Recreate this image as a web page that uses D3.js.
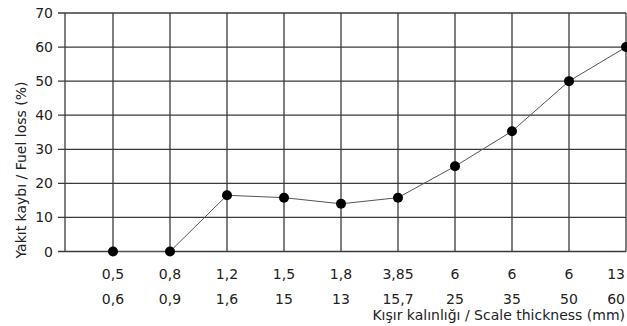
<!DOCTYPE html>
<html><head><meta charset="utf-8">
<script src="https://cdn.jsdelivr.net/npm/d3@7"></script>
<style>body{margin:0;background:#fff}svg text{font-family:"DejaVu Sans",sans-serif;fill:#222}</style>
</head><body><svg id="c" width="627" height="326"></svg>
<script>
const labelsTop = ["0,5","0,8","1,2","1,5","1,8","3,85","6","6","6","13"];
const labelsBottom = ["0,6","0,9","1,6","15","13","15,7","25","35","50","60"];
const values = [0,0,16.5,15.8,14,15.8,25,35.3,50,60];
const yTicks = [0,10,20,30,40,50,60,70];

(function(){
const svg = d3.select("#c");
const mLeft = 65, mRight = 626, mTop = 13, mBottom = 251.5;
const x = d3.scalePoint().domain(d3.range(values.length)).range([113, mRight]);
const y = d3.scaleLinear().domain([0,70]).range([mBottom, mTop]);
const grid = "#3a3a3a";
const fs = 14;
const n = values.length;

svg.append("g").selectAll("line").data(yTicks).join("line")
  .attr("x1", mLeft-7).attr("x2", mRight).attr("y1", d=>y(d)).attr("y2", d=>y(d))
  .attr("stroke", grid).attr("stroke-width", 1.3);
svg.append("g").selectAll("line").data(d3.range(n)).join("line")
  .attr("x1", d=>x(d)).attr("x2", d=>x(d)).attr("y1", mTop).attr("y2", mBottom)
  .attr("stroke", grid).attr("stroke-width", 1.3);
svg.append("line").attr("x1", mLeft).attr("x2", mLeft).attr("y1", mTop).attr("y2", mBottom)
  .attr("stroke", grid).attr("stroke-width", 1.3);

svg.append("g").selectAll("text").data(yTicks).join("text")
  .attr("x", mLeft-12).attr("y", d=>y(d)).attr("dy","0.36em").attr("text-anchor","end")
  .attr("font-size", fs).text(d=>d);

const anchor = i => i === n-1 ? "end" : "middle";
const lx = i => i === n-1 ? x(i)-1 : x(i);
svg.append("g").selectAll("text").data(labelsTop).join("text")
  .attr("x", (d,i)=>lx(i)).attr("y", 279).attr("text-anchor",(d,i)=>anchor(i)).attr("font-size",fs).text(d=>d);
svg.append("g").selectAll("text").data(labelsBottom).join("text")
  .attr("x", (d,i)=>lx(i)).attr("y", 304).attr("text-anchor",(d,i)=>anchor(i)).attr("font-size",fs).text(d=>d);

svg.append("path").datum(values)
  .attr("d", d3.line().x((d,i)=>x(i)).y(d=>y(d)))
  .attr("fill","none").attr("stroke","#555").attr("stroke-width",1);
svg.append("g").selectAll("circle").data(values).join("circle")
  .attr("cx",(d,i)=>x(i)).attr("cy",d=>y(d)).attr("r",5).attr("fill","#000");

svg.append("text").attr("x", 625).attr("y", 320).attr("text-anchor","end").attr("font-size",fs)
  .text("Kışır kalınlığı / Scale thickness (mm)");
svg.append("text").attr("transform","translate(26,170) rotate(-90)").attr("text-anchor","middle")
  .attr("font-size",fs).text("Yakıt kaybı / Fuel loss (%)");
})();
</script></body></html>
